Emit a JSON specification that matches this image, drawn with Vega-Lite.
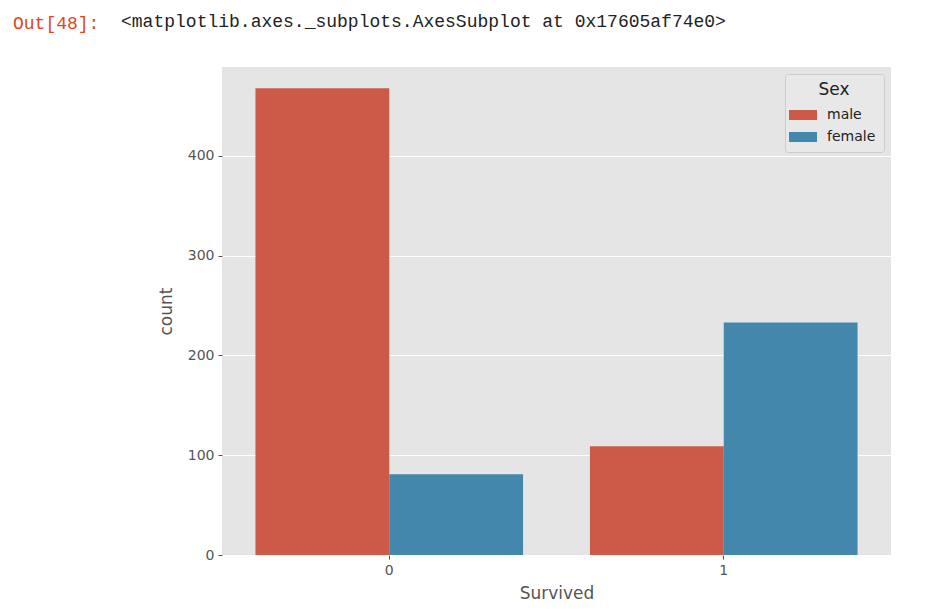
{
  "$schema": "https://vega.github.io/schema/vega-lite/v6.json",
  "width": 669,
  "height": 488,
  "autosize": {"type": "none"},
  "padding": {"left": 222, "top": 67, "right": 45, "bottom": 61},
  "title": {
    "text": "Out[48]:",
    "subtitle": "\u200b\u00a0\u00a0\u00a0\u00a0\u00a0\u00a0\u00a0\u00a0\u00a0\u00a0<matplotlib.axes._subplots.AxesSubplot at 0x17605af74e0>",
    "anchor": "start",
    "frame": "group",
    "dx": -209,
    "offset": 32,
    "font": "Liberation Mono",
    "fontSize": 18,
    "fontWeight": "normal",
    "color": "#D84A1B",
    "subtitleFont": "Liberation Mono",
    "subtitleFontSize": 18,
    "subtitleColor": "#222222",
    "subtitlePadding": -20
  },
  "data": {
    "values": [
      {"Survived": "0", "Sex": "male", "count": 468},
      {"Survived": "0", "Sex": "female", "count": 81},
      {"Survived": "1", "Sex": "male", "count": 109},
      {"Survived": "1", "Sex": "female", "count": 233}
    ]
  },
  "mark": {"type": "bar"},
  "encoding": {
    "x": {
      "field": "Survived",
      "type": "nominal",
      "scale": {"paddingInner": 0.2, "paddingOuter": 0.1},
      "axis": {
        "title": "Survived",
        "labelAngle": 0,
        "labelFontSize": 14,
        "labelColor": "#555555",
        "titleFontSize": 17,
        "titleFontWeight": "normal",
        "titleColor": "#555555",
        "tickColor": "#555555",
        "tickSize": 4,
        "labelPadding": 4,
        "titlePadding": 8,
        "domain": false,
        "grid": false
      }
    },
    "xOffset": {
      "field": "Sex",
      "sort": ["male", "female"],
      "scale": {"paddingInner": 0, "paddingOuter": 0}
    },
    "y": {
      "field": "count",
      "type": "quantitative",
      "scale": {"domain": [0, 489.2], "nice": false},
      "axis": {
        "title": "count",
        "values": [0, 100, 200, 300, 400],
        "labelFontSize": 14,
        "labelColor": "#555555",
        "titleFontSize": 17,
        "titleFontWeight": "normal",
        "titleColor": "#555555",
        "tickColor": "#555555",
        "tickSize": 4,
        "labelPadding": 4,
        "titlePadding": 12,
        "domain": false,
        "grid": true,
        "gridColor": "#FFFFFF",
        "gridWidth": 1.2
      }
    },
    "color": {
      "field": "Sex",
      "type": "nominal",
      "scale": {"domain": ["male", "female"], "range": ["#CC5A49", "#4487AD"]},
      "legend": {
        "title": "Sex",
        "orient": "top-right",
        "offset": 7,
        "titleFontSize": 17,
        "titleFontWeight": "normal",
        "titleColor": "#222222",
        "titleAnchor": "middle",
        "labelFontSize": 14,
        "labelColor": "#222222",
        "symbolType": "M-1.4,-0.5L1.4,-0.5L1.4,0.5L-1.4,0.5Z",
        "symbolSize": 400,
        "symbolStrokeWidth": 0,
        "labelOffset": 14,
        "rowPadding": 5,
        "titlePadding": 6,
        "fillColor": "#E8E8E8",
        "strokeColor": "#CCCCCC",
        "padding": 8,
        "cornerRadius": 3
      }
    }
  },
  "config": {
    "font": "DejaVu Sans",
    "view": {"fill": "#E5E5E5", "stroke": null}
  }
}
